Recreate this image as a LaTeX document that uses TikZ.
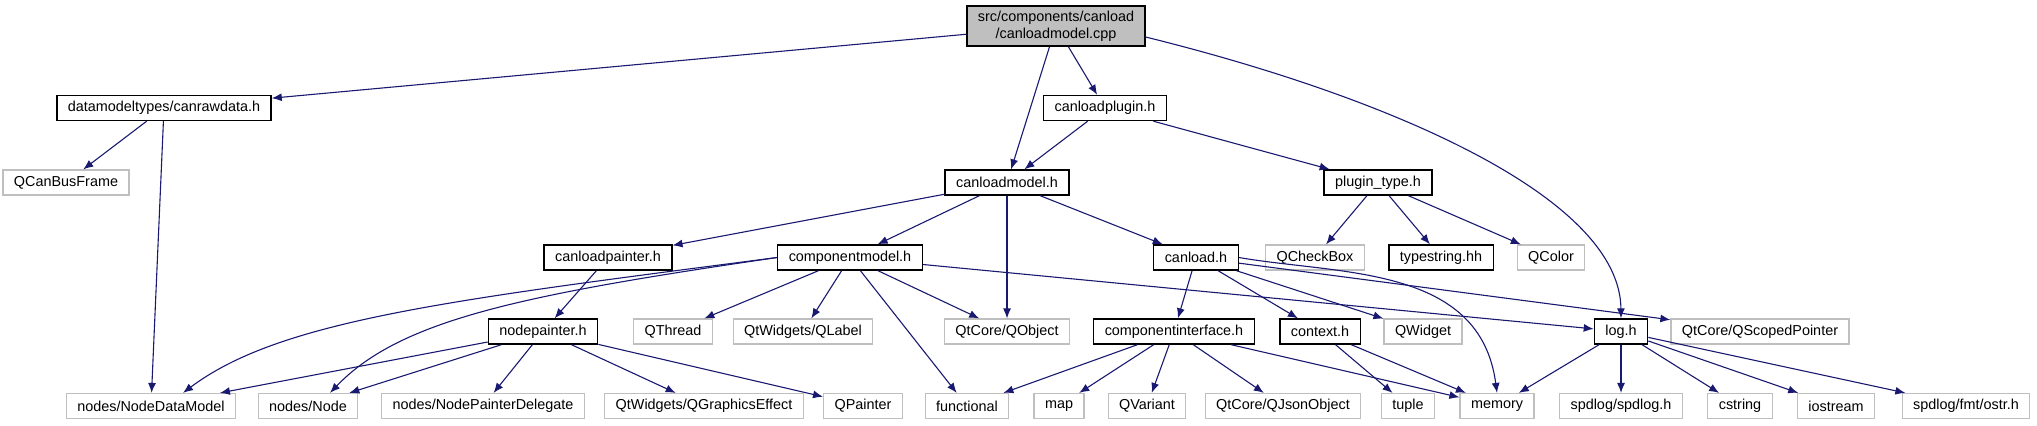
\documentclass[tikz,border=0pt]{standalone}
\usepackage{fontspec}
\setmainfont{Liberation Sans}
\usetikzlibrary{arrows.meta}

\definecolor{bleunuit}{HTML}{191970}
\definecolor{grisbord}{HTML}{BFBFBF}

\tikzset{
    fichier/.style={draw, fill=white, inner xsep=5.5pt, inner ysep=0pt,
        minimum height=12.5pt, font=\fontsize{7.2}{8.6}\selectfont},
    interne/.style={fichier, draw=black, line width=0.7pt},
    externe/.style={fichier, draw=grisbord, line width=0.6pt},
    racine/.style={interne, fill=grisbord, minimum height=20pt, align=center},
    incl/.style={draw=bleunuit, line width=0.55pt, -{Latex[length=5pt,width=4pt]}}
}

\begin{document}
\begin{tikzpicture}[x=0.5pt, y=-0.5pt]

\useasboundingbox (0,0) rectangle (2037,425);

% Fichier source
\node[racine] (cpp) at (1056,26) {src/components/canload\\/canloadmodel.cpp};

% Premier niveau
\node[interne] (canrawdata) at (164,108) {datamodeltypes/canrawdata.h};
\node[interne] (canloadplugin) at (1105,108) {canloadplugin.h};

\node[externe] (qcanbusframe) at (66,182.5) {QCanBusFrame};
\node[interne] (canloadmodel) at (1007,182.5) {canloadmodel.h};
\node[interne] (plugintype) at (1378,182.5) {plugin\_type.h};

% Niveau des en-tetes
\node[interne] (canloadpainter) at (608,257.5) {canloadpainter.h};
\node[interne] (componentmodel) at (850,257.5) {componentmodel.h};
\node[interne] (canload) at (1196,257.5) {canload.h};
\node[externe] (qcheckbox) at (1315,257.5) {QCheckBox};
\node[interne] (typestring) at (1441,257.5) {typestring.hh};
\node[externe] (qcolor) at (1551,257.5) {QColor};

% Niveau intermediaire
\node[interne] (nodepainter) at (543,331.5) {nodepainter.h};
\node[externe] (qthread) at (673,331.5) {QThread};
\node[externe] (qlabel) at (803,331.5) {QtWidgets/QLabel};
\node[externe] (qobject) at (1007,331.5) {QtCore/QObject};
\node[interne] (compinterface) at (1174,331.5) {componentinterface.h};
\node[interne] (context) at (1320,331.5) {context.h};
\node[externe] (qwidget) at (1423,331.5) {QWidget};
\node[interne] (logh) at (1621,331.5) {log.h};
\node[externe] (qscopedptr) at (1760,331.5) {QtCore/QScopedPointer};

% Feuilles
\node[externe] (nodedatamodel) at (151,406) {nodes/NodeDataModel};
\node[externe] (nodesnode) at (308,406) {nodes/Node};
\node[externe] (painterdelegate) at (483,406) {nodes/NodePainterDelegate};
\node[externe] (graphicseffect) at (704,406) {QtWidgets/QGraphicsEffect};
\node[externe] (qpainter) at (863,406) {QPainter};
\node[externe] (functional) at (967,406) {functional};
\node[externe] (mapn) at (1059,406) {map};
\node[externe] (qvariant) at (1147,406) {QVariant};
\node[externe] (qjsonobject) at (1283,406) {QtCore/QJsonObject};
\node[externe] (tuplen) at (1408,406) {tuple};
\node[externe] (memory) at (1497,406) {memory};
\node[externe] (spdlog) at (1621,406) {spdlog/spdlog.h};
\node[externe] (cstring) at (1740,406) {cstring};
\node[externe] (iostream) at (1836,406) {iostream};
\node[externe] (ostr) at (1966,406) {spdlog/fmt/ostr.h};

% Inclusions du fichier source
\draw[incl] (cpp) -- (canrawdata);
\draw[incl] (cpp) -- (canloadmodel);
\draw[incl] (cpp) -- (canloadplugin);
\draw[incl]
(cpp.-7)
.. controls (1400,100) and (1620,200) ..
(logh.north);

% canrawdata.h
\draw[incl] (canrawdata) -- (qcanbusframe);
\draw[incl] (canrawdata) -- (nodedatamodel);

% canloadplugin.h
\draw[incl] (canloadplugin) -- (canloadmodel);
\draw[incl] (canloadplugin) -- (plugintype);

% canloadmodel.h
\draw[incl] (canloadmodel) -- (canloadpainter);
\draw[incl] (canloadmodel) -- (componentmodel);
\draw[incl] (canloadmodel) -- (qobject);
\draw[incl] (canloadmodel) -- (canload);

% plugin_type.h
\foreach \cible in {qcheckbox,typestring,qcolor}
{
    \draw[incl] (plugintype) -- (\cible);
}

% canloadpainter.h
\draw[incl] (canloadpainter) -- (nodepainter);

% componentmodel.h
\draw[incl]
(componentmodel.west)
.. controls (450,300) and (280,320) ..
([xshift=16pt]nodedatamodel.north);
\draw[incl]
(componentmodel.west)
.. controls (520,295) and (400,320) ..
([xshift=11pt]nodesnode.north);
\foreach \cible in {qthread,qlabel,functional,qobject,logh}
{
    \draw[incl] (componentmodel) -- (\cible);
}

% canload.h
\foreach \cible in {compinterface,context,qwidget,qscopedptr}
{
    \draw[incl] (canload) -- (\cible);
}
\draw[incl]
(canload.east)
.. controls (1340,275) and (1480,265) ..
(memory.north);

% nodepainter.h
\foreach \cible in {nodedatamodel,nodesnode,painterdelegate,graphicseffect,qpainter}
{
    \draw[incl] (nodepainter) -- (\cible);
}

% componentinterface.h
\foreach \cible in {functional,mapn,qvariant,qjsonobject,memory}
{
    \draw[incl] (compinterface) -- (\cible);
}

% context.h
\draw[incl] (context) -- (tuplen);
\draw[incl] (context) -- (memory);

% log.h
\foreach \cible in {memory,spdlog,cstring,iostream,ostr}
{
    \draw[incl] (logh) -- (\cible);
}

\end{tikzpicture}
\end{document}
